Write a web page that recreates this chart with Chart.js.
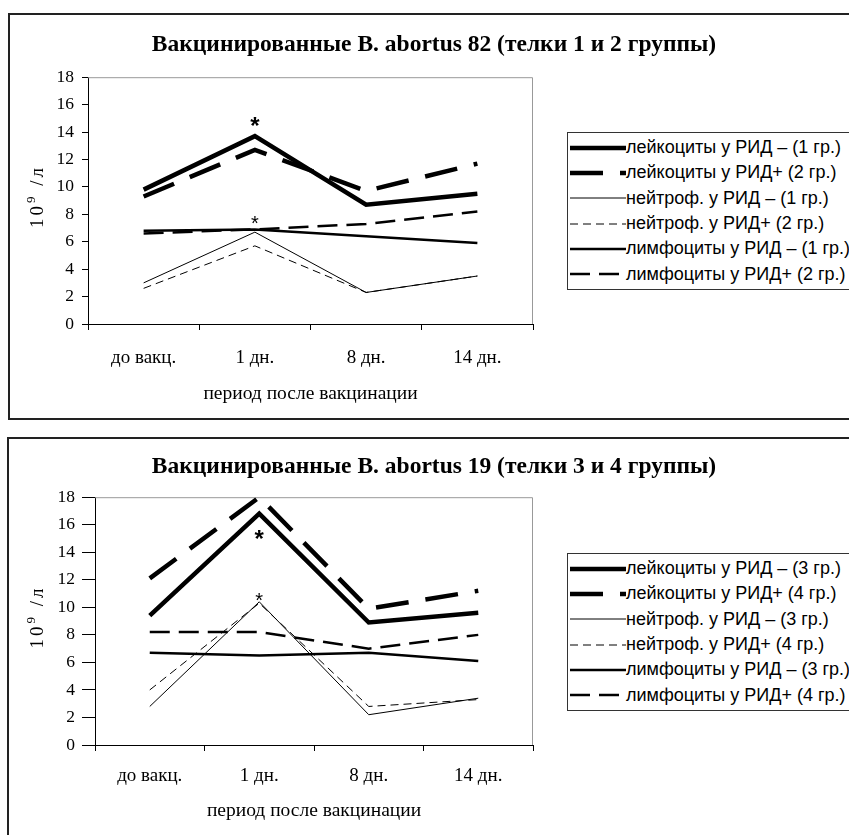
<!DOCTYPE html>
<html>
<head>
<meta charset="utf-8">
<title>Вакцинированные B. abortus</title>
<script src="https://cdn.jsdelivr.net/npm/chart.js"></script>
<style>
    body { margin: 0; width: 849px; height: 835px; overflow: hidden; background: #fff; position: relative; }
    .panel { position: absolute; border: 2px solid #222; background: #fff; }
    #panel1 { left: 8px; top: 13px; width: 900px; height: 403px; }
    #panel2 { left: 7px; top: 437px; width: 900px; height: 420px; }
    canvas { position: absolute; left: 0; }
    #chart1 { top: 0; }
    #chart2 { top: 420px; }
    .legend { position: absolute; left: 567px; width: 320px; border: 1px solid #333; padding: 2px 0;
              font: 18px "Liberation Sans", Arial, sans-serif; color: #000; background: #fff; }
    .legend .row { height: 25.3px; display: flex; align-items: center; white-space: nowrap; }
    .legend svg { display: block; flex: none; }
    #legend1 { top: 132px; }
    #legend2 { top: 553px; }
</style>
</head>
<body>
<div class="panel" id="panel1"></div>
<div class="panel" id="panel2"></div>
<canvas id="chart1" width="849" height="420"></canvas>
<canvas id="chart2" width="849" height="415"></canvas>
<div class="legend" id="legend1"></div>
<div class="legend" id="legend2"></div>

<script>
    const periods = ['до вакц.', '1 дн.', '8 дн.', '14 дн.'];

    // телки 1 и 2 группы (B. abortus 82)
    const leuk1 = [9.8, 13.7, 8.7, 9.5];
    const leuk2 = [9.3, 12.7, 9.7, 11.7];
    const neut1 = [3.0, 6.7, 2.3, 3.5];
    const neut2 = [2.6, 5.7, 2.3, 3.5];
    const lymph1 = [6.8, 6.9, 6.4, 5.9];
    const lymph2 = [6.6, 6.9, 7.3, 8.2];
    const stars82 = [[1, 14.7, true], [1, 7.6, false]];

    // телки 3 и 4 группы (B. abortus 19)
    const leuk3 = [9.4, 16.8, 8.9, 9.6];
    const leuk4 = [12.1, 18.0, 9.9, 11.2];
    const neut3 = [2.8, 10.4, 2.2, 3.4];
    const neut4 = [4.0, 10.3, 2.8, 3.3];
    const lymph3 = [6.7, 6.5, 6.7, 6.1];
    const lymph4 = [8.2, 8.2, 7.0, 8.0];
    const stars19 = [[1, 15.2, true], [1, 10.8, false]];

    const serif = '"Liberation Serif", "Times New Roman", serif';

    const styles = {
        thick:  { borderWidth: 4.5, borderDash: [] },
        thickD: { borderWidth: 4.5, borderDash: [33, 17] },
        thin:   { borderWidth: 1, borderDash: [] },
        thinD:  { borderWidth: 1, borderDash: [8, 5] },
        mid:    { borderWidth: 2.5, borderDash: [] },
        midD:   { borderWidth: 2.5, borderDash: [20, 9] }
    };

    function series(label, data, style) {
        return Object.assign({
            label: label,
            data: data,
            borderColor: '#000',
            backgroundColor: '#000',
            pointRadius: 0,
            tension: 0,
            fill: false
        }, styles[style]);
    }

    // рамка области построения: серые верхняя и правая стороны
    const plotFrame = {
        id: 'plotFrame',
        beforeDatasetsDraw(chart) {
            const { ctx, chartArea: a } = chart;
            ctx.save();
            ctx.strokeStyle = '#999';
            ctx.lineWidth = 1;
            ctx.beginPath();
            ctx.moveTo(a.left, a.top + 0.5);
            ctx.lineTo(a.right - 0.5, a.top + 0.5);
            ctx.lineTo(a.right - 0.5, a.bottom);
            ctx.stroke();
            ctx.restore();
        }
    };

    // подпись оси Y с надстрочной девяткой
    const yUnit = {
        id: 'yUnit',
        afterDraw(chart) {
            const { ctx, chartArea: a } = chart;
            const parts = [['10', 19, 0], ['9', 13, -8], [' /л', 19, 0]];
            ctx.save();
            ctx.fillStyle = '#000';
            ctx.textBaseline = 'alphabetic';
            ctx.textAlign = 'left';
            if ('letterSpacing' in ctx) ctx.letterSpacing = '3px';
            let total = 0;
            parts.forEach(p => { ctx.font = p[1] + 'px ' + serif; total += ctx.measureText(p[0]).width; });
            ctx.translate(chart.scales.y.left + 24, (a.top + a.bottom) / 2 - 4);
            ctx.rotate(-Math.PI / 2);
            let x = -total / 2;
            parts.forEach(p => {
                ctx.font = p[1] + 'px ' + serif;
                ctx.fillText(p[0], x, p[2]);
                x += ctx.measureText(p[0]).width;
            });
            ctx.restore();
        }
    };

    // звёздочки достоверности
    const starMarks = {
        id: 'starMarks',
        afterDatasetsDraw(chart, args, opts) {
            const { ctx, scales } = chart;
            ctx.save();
            ctx.fillStyle = '#000';
            ctx.textAlign = 'center';
            ctx.textBaseline = 'middle';
            (opts.marks || []).forEach(([i, v, big]) => {
                ctx.font = big ? 'bold 24px "Liberation Sans", Arial, sans-serif'
                               : '20px "Liberation Sans", Arial, sans-serif';
                ctx.fillText('*', scales.x.getPixelForValue(i), scales.y.getPixelForValue(v) + 5);
            });
            ctx.restore();
        }
    };

    function makeChart(id, title, datasets, marks, g) {
        return new Chart(document.getElementById(id), {
            type: 'line',
            data: { labels: periods, datasets: datasets },
            plugins: [plotFrame, starMarks, yUnit],
            options: {
                responsive: false,
                animation: false,
                layout: { padding: { left: 19, right: 0, top: 0, bottom: g.padBottom } },
                plugins: {
                    legend: { display: false },
                    tooltip: { enabled: false },
                    starMarks: { marks: marks },
                    title: {
                        display: true,
                        text: title,
                        color: '#000',
                        font: { family: serif, size: 23.5, weight: 'bold' },
                        padding: g.titlePad
                    }
                },
                scales: {
                    x: {
                        offset: true,
                        afterFit: s => { s.height = g.xHeight; },
                        border: { color: '#000', width: 1 },
                        grid: { offset: true, drawOnChartArea: false, drawTicks: true, tickLength: 6, color: '#000' },
                        ticks: { color: '#000', padding: g.labelPad, maxRotation: 0, font: { family: serif, size: 19 } },
                        title: { display: true, text: 'период после вакцинации', color: '#000',
                                 font: { family: serif, size: 19.5 }, padding: { top: 4, bottom: 4 } }
                    },
                    y: {
                        min: 0,
                        max: 18,
                        afterFit: s => { s.width = g.yWidth; },
                        border: { color: '#000', width: 1 },
                        grid: { drawOnChartArea: false, drawTicks: true, tickLength: g.tickLen, color: '#000' },
                        ticks: { stepSize: 2, color: '#000', padding: g.tickPad, font: { family: serif, size: 17.5 } }
                    },
                    // место под легенду справа
                    side: {
                        type: 'linear',
                        position: 'right',
                        afterFit: s => { s.width = 316; },
                        grid: { display: false },
                        border: { display: false },
                        ticks: { display: false }
                    }
                }
            }
        });
    }

    function buildLegend(boxId, chart) {
        const box = document.getElementById(boxId);
        const svgNS = 'http://www.w3.org/2000/svg';
        chart.data.datasets.forEach(ds => {
            const row = document.createElement('div');
            row.className = 'row';
            const svg = document.createElementNS(svgNS, 'svg');
            svg.setAttribute('width', '58');
            svg.setAttribute('height', '10');
            const ln = document.createElementNS(svgNS, 'line');
            ln.setAttribute('x1', '2');
            ln.setAttribute('x2', '58');
            ln.setAttribute('y1', '5');
            ln.setAttribute('y2', '5');
            ln.setAttribute('stroke', ds.borderColor);
            ln.setAttribute('stroke-width', ds.borderWidth);
            if (ds.borderDash.length) ln.setAttribute('stroke-dasharray', ds.borderDash.join(' '));
            svg.appendChild(ln);
            const txt = document.createElement('span');
            txt.textContent = ds.label;
            row.appendChild(svg);
            row.appendChild(txt);
            box.appendChild(row);
        });
    }

    const chart82 = makeChart('chart1', 'Вакцинированные B. abortus 82 (телки 1 и 2 группы)', [
        series('лейкоциты у РИД – (1 гр.)', leuk1, 'thick'),
        series('лейкоциты у РИД+ (2 гр.)', leuk2, 'thickD'),
        series('нейтроф. у РИД – (1 гр.)', neut1, 'thin'),
        series('нейтроф. у РИД+ (2 гр.)', neut2, 'thinD'),
        series('лимфоциты у РИД – (1 гр.)', lymph1, 'mid'),
        series('лимфоциты у РИД+ (2 гр.)', lymph2, 'midD')
    ], stars82, { yWidth: 69, tickLen: 6, tickPad: 8, labelPad: 17, xHeight: 86, padBottom: 10,
                  titlePad: { top: 31, bottom: 18 } });

    const chart19 = makeChart('chart2', 'Вакцинированные B. abortus 19 (телки 3 и 4 группы)', [
        series('лейкоциты у РИД – (3 гр.)', leuk3, 'thick'),
        series('лейкоциты у РИД+ (4 гр.)', leuk4, 'thickD'),
        series('нейтроф. у РИД – (3 гр.)', neut3, 'thin'),
        series('нейтроф. у РИД+ (4 гр.)', neut4, 'thinD'),
        series('лимфоциты у РИД – (3 гр.)', lymph3, 'mid'),
        series('лимфоциты у РИД+ (4 гр.)', lymph4, 'midD')
    ], stars19, { yWidth: 76, tickLen: 13, tickPad: 7, labelPad: 14, xHeight: 82, padBottom: 8,
                  titlePad: { top: 33, bottom: 16 } });

    buildLegend('legend1', chart82);
    buildLegend('legend2', chart19);
</script>
</body>
</html>
